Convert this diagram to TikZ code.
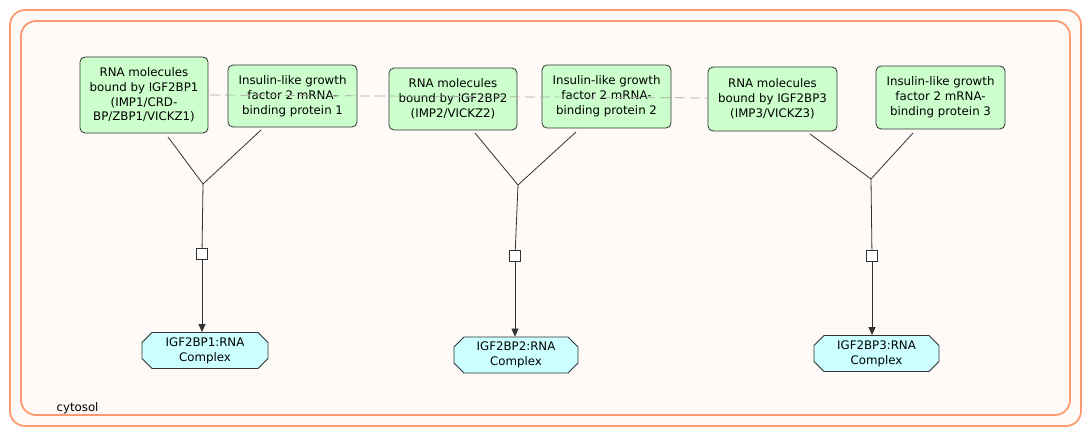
\documentclass[tikz,border=0pt]{standalone}
\usepackage{fontspec}
\setmainfont{DejaVu Sans}
\usetikzlibrary{arrows.meta,shapes.misc}
\definecolor{compfill}{HTML}{FDFAF8}
\definecolor{compline}{HTML}{FF9B70}
\definecolor{entfill}{HTML}{CCFFCC}
\definecolor{cplxfill}{HTML}{CCFFFF}
\tikzset{
  ent/.style={draw=black!80, fill=entfill, rounded corners=5pt, align=center, font=\fontsize{11.8}{14.8}\selectfont, inner sep=0pt, line width=0.8pt},
  cplx/.style={draw=black!80, fill=cplxfill, chamfered rectangle, chamfered rectangle xsep=5pt, chamfered rectangle ysep=5pt, chamfered rectangle corners={north west,north east,south west,south east}, align=center, font=\fontsize{11.8}{14.8}\selectfont, inner sep=0pt, line width=0.8pt},
  rxn/.style={draw=black!80, line width=0.8pt},
  proc/.style={draw=black!80, fill=white, minimum size=10.5pt, inner sep=0pt, line width=0.8pt},
  arr/.style={rxn, -{Triangle[width=7pt,length=8pt]}},
}
\begin{document}
\begin{tikzpicture}[x=1pt,y=-1pt]
\useasboundingbox (0,0) rectangle (1088,435);
\fill[white] (0,0) rectangle (1088,435);
% compartments
\draw[compline, fill=compfill, line width=1.8pt, rounded corners=15pt] (10,10) rectangle (1081,426);
\draw[compline, fill=compfill, line width=1.8pt, rounded corners=15pt] (21,21) rectangle (1070,415);
\node[anchor=west, font=\fontsize{11.8}{13}\selectfont] (cyt) at (53,408) {cytosol};
% entities
\node[ent, minimum width=128pt, minimum height=76pt] (rna1) at (144,95) {RNA molecules\\bound by IGF2BP1\\(IMP1/CRD-\\BP/ZBP1/VICKZ1)};
\node[ent, minimum width=129pt, minimum height=62pt] (ins1) at (292.5,96) {Insulin-like growth\\factor 2 mRNA-\\binding protein 1};
\node[ent, minimum width=128pt, minimum height=62pt] (rna2) at (453,99) {RNA molecules\\bound by IGF2BP2\\(IMP2/VICKZ2)};
\node[ent, minimum width=129pt, minimum height=63pt] (ins2) at (606.5,96.5) {Insulin-like growth\\factor 2 mRNA-\\binding protein 2};
\node[ent, minimum width=129pt, minimum height=64pt] (rna3) at (772.5,99) {RNA molecules\\bound by IGF2BP3\\(IMP3/VICKZ3)};
\node[ent, minimum width=129pt, minimum height=63pt] (ins3) at (940.5,97.5) {Insulin-like growth\\factor 2 mRNA-\\binding protein 3};
% dashed link
\coordinate (d1) at (210,95);
\coordinate (d2) at (707,98);
\draw[black!35, dash pattern=on 10pt off 5pt, line width=0.7pt] (d1) -- (d2);
% complexes
\node[cplx, minimum width=126pt, minimum height=31pt] (c1) at (205,350.5) {IGF2BP1:RNA\\Complex};
\node[cplx, minimum width=124pt, minimum height=34pt] (c2) at (516,355) {IGF2BP2:RNA\\Complex};
\node[cplx, minimum width=125pt, minimum height=33pt] (c3) at (876.5,353.5) {IGF2BP3:RNA\\Complex};
% reaction 1
\coordinate (j1) at (203,184);
\coordinate (s1a) at (168,137);
\coordinate (s1b) at (261,130);
\node[proc] (p1) at (202,254) {};
\draw[rxn] (s1a) -- (j1);
\draw[rxn] (s1b) -- (j1);
\draw[rxn] (j1) -- (p1);
\draw[arr] (p1) -- (c1.north -| p1);
% reaction 2
\coordinate (j2) at (518,185);
\coordinate (s2a) at (475,133);
\coordinate (s2b) at (576,132);
\node[proc] (p2) at (515,256) {};
\draw[rxn] (s2a) -- (j2);
\draw[rxn] (s2b) -- (j2);
\draw[rxn] (j2) -- (p2);
\draw[arr] (p2) -- (c2.north -| p2);
% reaction 3
\coordinate (j3) at (871,179);
\coordinate (s3a) at (810,134);
\coordinate (s3b) at (913,133);
\node[proc] (p3) at (872,256) {};
\draw[rxn] (s3a) -- (j3);
\draw[rxn] (s3b) -- (j3);
\draw[rxn] (j3) -- (p3);
\draw[arr] (p3) -- (c3.north -| p3);
\end{tikzpicture}
\end{document}
